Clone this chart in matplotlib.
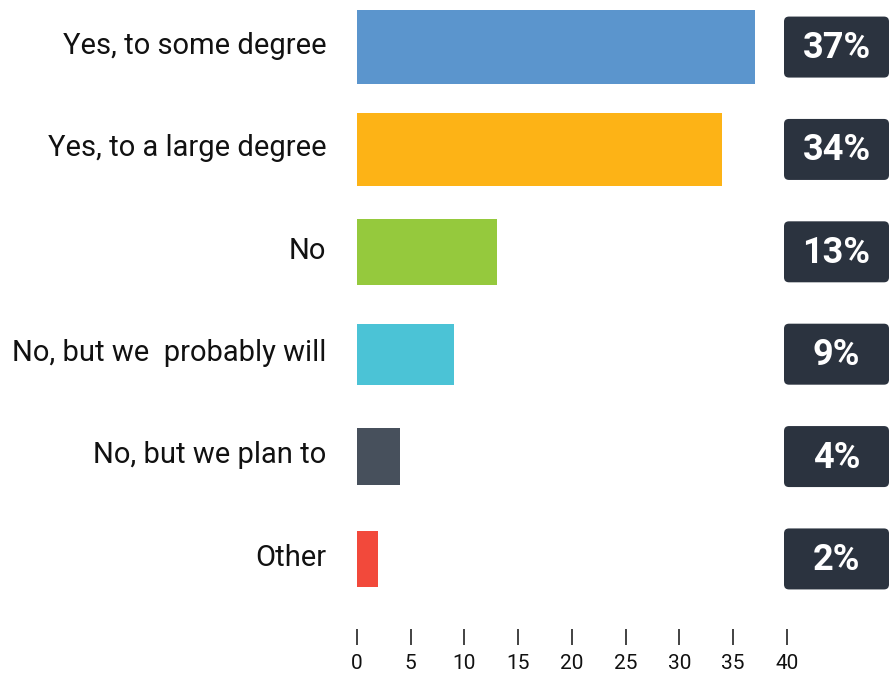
import numpy as np
from matplotlib import pyplot as plt
from matplotlib.patches import FancyBboxPatch
import matplotlib.transforms as mtransforms

plt.rcParams['font.family'] = ['Roboto', 'DejaVu Sans']

categories = ["Yes, to some degree", "Yes, to a large degree", "No",
              "No, but we  probably will", "No, but we plan to", "Other"]
values = [37, 34, 13, 9, 4, 2]
labels = ["37%", "34%", "13%", "9%", "4%", "2%"]
ticks = [0, 5, 10, 15, 20, 25, 30, 35, 40]

colors = ["#5B95CD", "#FDB316", "#95C93D", "#4BC3D6", "#47505C", "#F2493B"]
heights = [0.72, 0.72, 0.645, 0.595, 0.565, 0.545]
box_color = "#2B333F"

fig = plt.figure(figsize=(8.9, 6.74), dpi=100)
ax = fig.add_axes([357 / 890, 1 - 605 / 674, 1 - 357 / 890, 604 / 674])

for s in ['top', 'right', 'left', 'bottom']:
    ax.spines[s].set_visible(False)
ax.spines['bottom'].set_position(('outward', 17))

y = np.arange(len(categories))
ax.barh(y, values, height=heights, color=colors)

ax.set_xlim(0, 49.6)
ax.set_ylim(5.45, -0.45)

# value boxes on the right
px_x = (890 - 357) / 49.6
px_y = 604 / 5.9
r = 5 / px_x
for i, lab in enumerate(labels):
    bw = 105 / px_x
    bh = 61 / px_y
    x0 = (784 - 357) / px_x
    box = FancyBboxPatch((x0, i - bh / 2), bw, bh,
                         boxstyle="round,pad=0,rounding_size=%f" % r,
                         mutation_aspect=px_x / px_y,
                         fc=box_color, ec="none", clip_on=False)
    ax.add_patch(box)
    ax.text(x0 + bw / 2, i + 0.01, lab, ha="center", va="center",
            color="white", fontsize=26, fontweight="bold")

ax.set_yticks(y)
ax.set_yticklabels(categories)
ax.tick_params(axis="y", length=0, pad=22, labelsize=21, labelcolor="#111111")
shift = mtransforms.ScaledTranslation(0, 3 / 72, fig.dpi_scale_trans)
for t in ax.get_yticklabels():
    t.set_transform(t.get_transform() + shift)

ax.set_xticks(ticks)
ax.set_xticklabels([str(t) for t in ticks])
ax.tick_params(axis="x", direction="out", length=11.5, width=1.2,
               color="#222222", pad=7, labelsize=15, labelcolor="#111111")

plt.savefig("out.png", dpi=100)
